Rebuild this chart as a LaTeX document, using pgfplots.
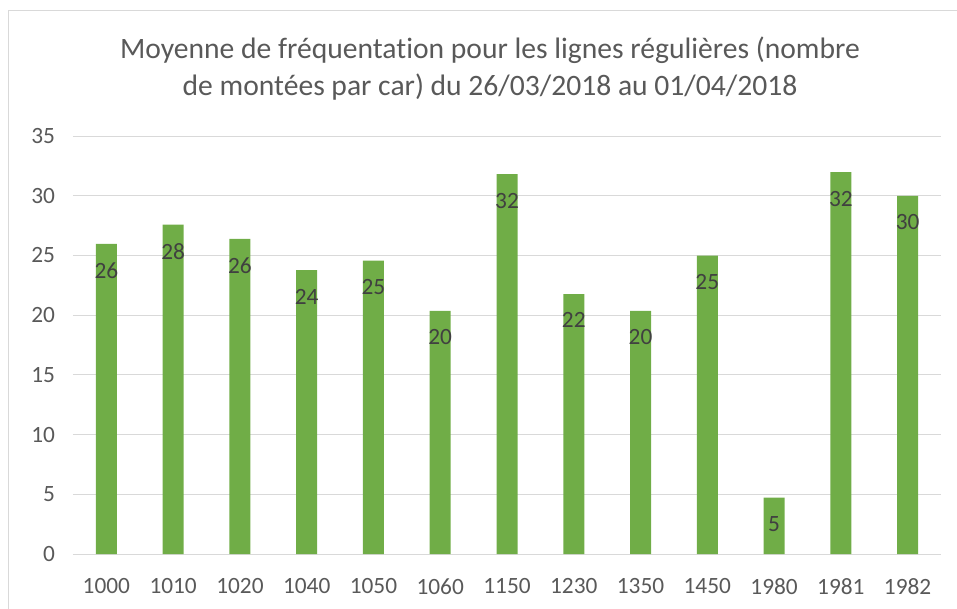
\documentclass[border=0pt]{standalone}
\usepackage{fontspec}
\setmainfont{Carlito}[Ligatures=NoCommon]
\usepackage{pgfplots}
\pgfplotsset{compat=1.18}
\definecolor{barg}{HTML}{70AD47}
\definecolor{gridg}{HTML}{D9D9D9}
\definecolor{txt}{HTML}{595959}
\definecolor{lbl}{HTML}{404040}
\begin{document}
\begin{tikzpicture}
\path[use as bounding box] (-54.75pt,-40.5pt) rectangle (663pt,415.5pt);
\draw[gridg, line width=0.75pt] (-48pt,-42pt) -- (-48pt,407.25pt) -- (664pt,407.25pt);
\begin{axis}[
  at={(0,0)}, anchor=south west,
  scale only axis, width=651pt, height=313.5pt,
  ybar, bar width=15.75pt,
  xmin=-0.5, xmax=12.5, ymin=0, ymax=35,
  ytick={0,5,...,35},
  xtick=data,
  xticklabels={1000,1010,1020,1040,1050,1060,1150,1230,1350,1450,1980,1981,1982},
  axis line style={draw=none},
  major tick length=0pt,
  ymajorgrids, grid style={gridg, line width=0.75pt},
  tick label style={font=\fontsize{17.5}{21}\selectfont, text=txt},
  /pgf/number format/assume math mode=true,
  yticklabel style={xshift=-10pt},
  xticklabel style={yshift=-15pt},
  nodes near coords={\pgfmathprintnumber[fixed,precision=0]{\pgfplotspointmeta}},
  nodes near coords align={below},
  every node near coord/.append style={yshift=-10.5pt, font=\fontsize{17.5}{21}\selectfont, text=lbl},
]
\addplot[fill=barg, draw=none] coordinates {
  (0,25.96) (1,27.58) (2,26.38) (3,23.76) (4,24.57) (5,20.35) (6,31.8)
  (7,21.77) (8,20.35) (9,24.98) (10,4.72) (11,31.97) (12,29.98)
};
\end{axis}
\node[align=center, text=txt, font=\fontsize{22.2}{27.75}\selectfont] at (312.75pt,364pt)
  {Moyenne de fréquentation pour les lignes régulières (nombre\\de montées par car) du 26/03/2018 au 01/04/2018};
\end{tikzpicture}
\end{document}
